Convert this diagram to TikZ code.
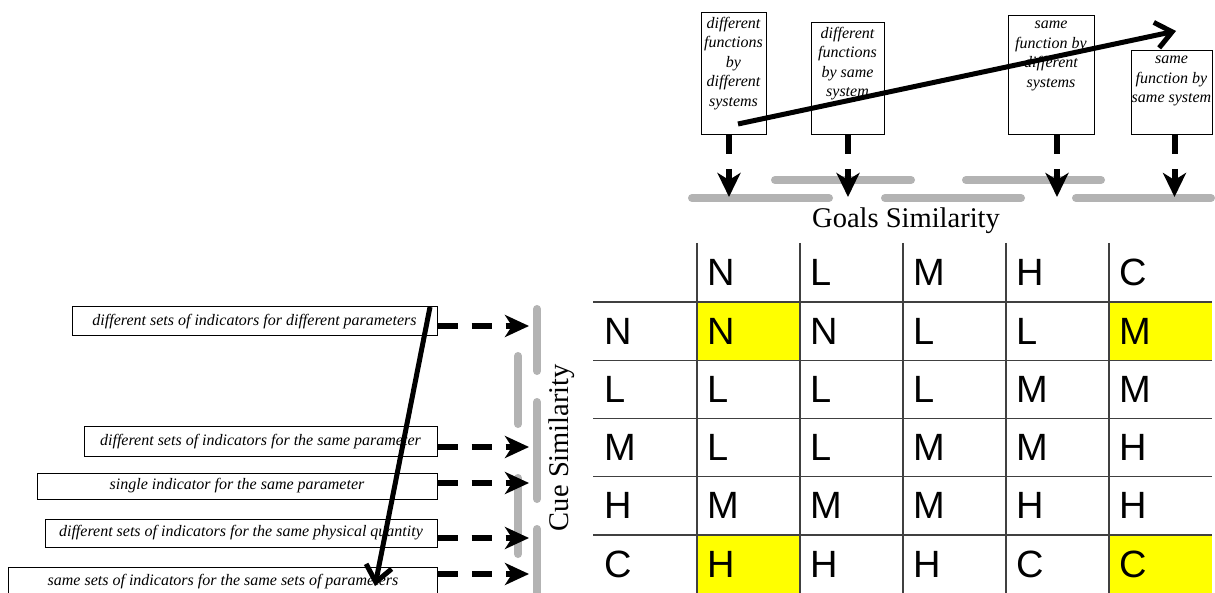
\documentclass[tikz,border=0pt]{standalone}
\usepackage{fontspec}
\setmainfont{Liberation Serif}
\newfontfamily\arialf{Liberation Sans}
\usetikzlibrary{arrows.meta}
\definecolor{barg}{HTML}{B3B3B3}
\definecolor{gridc}{HTML}{404040}
\definecolor{cellyellow}{HTML}{FFFF00}
\begin{document}
\begin{tikzpicture}[x=1pt,y=-1pt,
  gbox/.style={draw=black,line width=1pt,inner sep=0pt,fill=white,anchor=north west},
  gtext/.style={font=\itshape\fontsize{16}{19.5}\selectfont,align=center,inner sep=0pt,anchor=north},
  cbox/.style={draw=black,line width=1pt,inner sep=0pt,fill=white,font=\itshape\fontsize{16}{19}\selectfont},
  gbar/.style={draw=barg,line width=8pt,line cap=round},
  darr/.style={line width=6pt,dash pattern=on 20pt off 14pt,-{Stealth[length=24pt,width=22pt,inset=7pt]}},
  garr/.style={line width=6pt,dash pattern=on 19pt off 15pt,-{Stealth[length=24pt,width=23pt,inset=7pt]}},
  diag/.style={line width=5pt,-{Straight Barb[length=16pt,width=26pt]}},
  gridl/.style={draw=gridc,line width=1.3pt},
  cell/.style={font=\arialf\fontsize{38}{38}\selectfont,anchor=west,inner sep=0pt},
  simlabel/.style={font=\fontsize{28.5}{30}\selectfont,inner sep=0pt,anchor=base}
]
\useasboundingbox (0,0) rectangle (1215,593);
\fill[white] (0,0) rectangle (1215,593);

% ---------- table ----------
\fill[cellyellow] (697,302) rectangle (800,360.25);
\fill[cellyellow] (1109,302) rectangle (1212,360.25);
\fill[cellyellow] (697,535) rectangle (800,593);
\fill[cellyellow] (1109,535) rectangle (1212,593);
\foreach \x in {697,800,903,1006,1109} \draw[gridl] (\x,243) -- (\x,593);
\foreach \y in {302,360.25,418.5,476.75,535} \draw[gridl] (593,\y) -- (1212,\y);
\foreach \h [count=\j from 0] in {N,L,M,H,C}
  \node[cell] (h\j) at (707+103*\j,272.5) {\h};
\foreach \lab/\va/\vb/\vc/\vd/\ve [count=\i from 0] in
  {N/N/N/L/L/M, L/L/L/L/M/M, M/L/L/M/M/H, H/M/M/M/H/H, C/H/H/H/C/C} {
  \node[cell] (r\i) at (604,331.125+58.25*\i) {\lab};
  \node[cell] (c\i a) at (707,331.125+58.25*\i) {\va};
  \node[cell] (c\i b) at (810,331.125+58.25*\i) {\vb};
  \node[cell] (c\i c) at (913,331.125+58.25*\i) {\vc};
  \node[cell] (c\i d) at (1016,331.125+58.25*\i) {\vd};
  \node[cell] (c\i e) at (1119,331.125+58.25*\i) {\ve};
}

% ---------- gray similarity bars ----------
\draw[gbar] (775,180) -- (911,180);
\draw[gbar] (966,180) -- (1101,180);
\draw[gbar] (692,198) -- (829,198);
\draw[gbar] (885,198) -- (1021,198);
\draw[gbar] (1076,198) -- (1211,198);
\draw[gbar] (537,309) -- (537,371);
\draw[gbar] (537,402) -- (537,499);
\draw[gbar] (537,529) -- (537,600);
\draw[gbar] (518,356) -- (518,424);
\draw[gbar] (518,478) -- (518,554);

\node[simlabel] (goals) at (906,228) {Goals Similarity};
\node[simlabel,rotate=90] (cue) at (568,447.5) {Cue Similarity};

% ---------- goal boxes ----------
\node[gbox,minimum width=65pt,minimum height=122pt] (g1) at (701,12) {};
\node[gbox,minimum width=73pt,minimum height=112pt] (g2) at (811,22) {};
\node[gbox,minimum width=86pt,minimum height=119pt] (g3) at (1008,15) {};
\node[gbox,minimum width=81pt,minimum height=84pt] (g4) at (1131,50) {};
\node[gtext] (g1t) at (733.5,17) {different\\functions\\by\\different\\systems};
\node[gtext] (g2t) at (847.5,27) {different\\functions\\by same\\system};
\node[gtext] (g3t) at (1051,21) {same\\function by\\different\\systems};
\node[gtext] (g4t) at (1171.5,56) {same\\function by\\same system};

\coordinate (d1) at (729,197);
\coordinate (d2) at (848,197);
\coordinate (d3) at (1057,197);
\coordinate (d4) at (1174.5,197);
\draw[garr] (d1 |- g1.south) -- (d1);
\draw[garr] (d2 |- g2.south) -- (d2);
\draw[garr] (d3 |- g3.south) -- (d3);
\draw[garr] (d4 |- g4.south) -- (d4);

% ---------- cue boxes ----------
\node[cbox,minimum width=365pt,minimum height=29pt] (cA) at (254.5,321.5) {different sets of indicators for different parameters};
\node[cbox,minimum width=353pt,minimum height=30pt] (cB) at (260.5,441.5) {different sets of indicators for the same parameter};
\node[cbox,minimum width=400pt,minimum height=26pt] (cC) at (237,486) {single indicator for the same parameter};
\node[cbox,minimum width=392pt,minimum height=28pt] (cD) at (241,533) {different sets of indicators for the same physical quantity};
\node[cbox,minimum width=429pt,minimum height=30pt,anchor=north west] (cE) at (8,567) {\raisebox{5pt}{same sets of indicators for the same sets of parameters}};

\coordinate (e1) at (529,326);
\coordinate (e2) at (529,447);
\coordinate (e3) at (529,483);
\coordinate (e4) at (529,538);
\coordinate (e5) at (529,574);
\draw[darr] (cA.east |- e1) -- (e1);
\draw[darr] (cB.east |- e2) -- (e2);
\draw[darr] (cC.east |- e3) -- (e3);
\draw[darr] (cD.east |- e4) -- (e4);
\draw[darr] (cE.east |- e5) -- (e5);

% ---------- diagonal arrows ----------
\coordinate (s1) at (738,124);
\coordinate (t1) at (1176,31);
\coordinate (s2) at (430,307);
\coordinate (t2) at (375,586);
\draw[diag] (s1) -- (t1);
\draw[diag] (s2) -- (t2);
\end{tikzpicture}
\end{document}
